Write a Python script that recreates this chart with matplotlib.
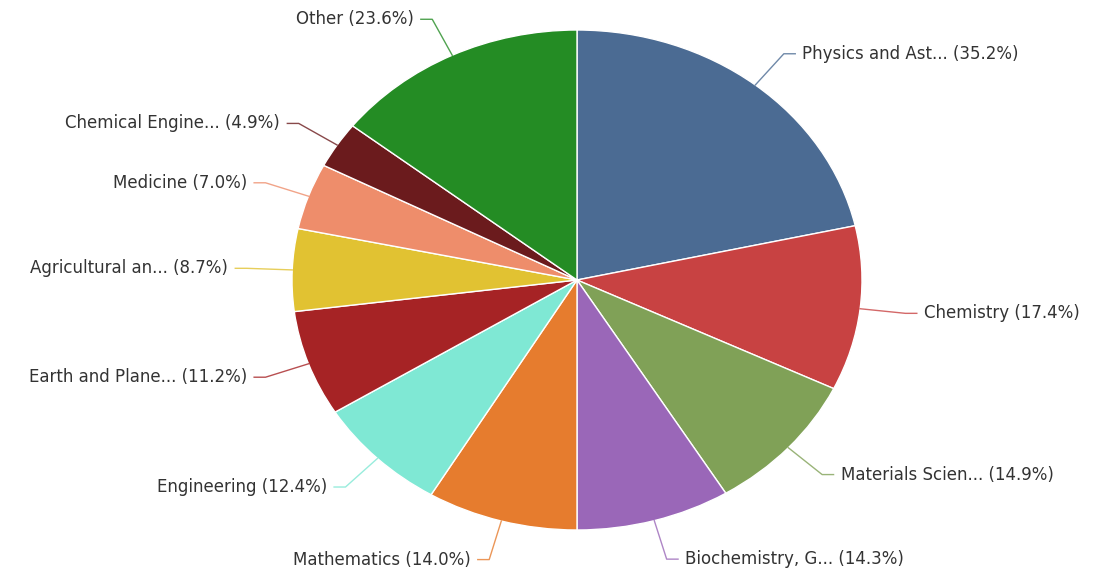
"""Subject-area share pie, labelled Highcharts style."""
import matplotlib

matplotlib.use("Agg")
import matplotlib.pyplot as plt
import numpy as np

subjects = [
    "Physics and Ast...",
    "Chemistry",
    "Materials Scien...",
    "Biochemistry, G...",
    "Mathematics",
    "Engineering",
    "Earth and Plane...",
    "Agricultural an...",
    "Medicine",
    "Chemical Engine...",
    "Other",
]
shares = [35.2, 17.4, 14.9, 14.3, 14.0, 12.4, 11.2, 8.7, 7.0, 4.9, 23.6]
colors = [
    "#4b6b93", "#c84242", "#80a157", "#9a67b8", "#e67c2e", "#7fe8d4",
    "#a62325", "#e1c232", "#ee8d6b", "#6b1b1d", "#248c24",
]

W, H = 1100, 576
fig = plt.figure(figsize=(W / 100, H / 100), dpi=100)
ax = fig.add_axes([0, 0, 1, 1])

wedges, _ = ax.pie(
    shares,
    colors=colors,
    startangle=90,
    counterclock=False,
    radius=1.0,
    wedgeprops={"edgecolor": "white", "linewidth": 1.0},
)

# stretch the pie into the ellipse seen in the reference
cx, cy, rx, ry = 577, 280, 285, 250
ax.set_aspect("auto")
ax.set_xlim(-cx / rx, (W - cx) / rx)
ax.set_ylim(-(H - cy) / ry, cy / ry)
ax.axis("off")

for w, name, val, col in zip(wedges, subjects, shares, colors):
    theta = np.deg2rad((w.theta1 + w.theta2) / 2)
    c, s = np.cos(theta), np.sin(theta)
    side = 1 if c >= 0 else -1
    x1, y1 = 1.16 * c, 1.16 * s
    x2 = x1 + side * 0.04
    ax.plot([c, x1, x2], [s, y1, y1], color=col, lw=1.0, alpha=0.8)
    ax.text(
        x2 + side * 0.025,
        y1,
        f"{name} ({val:.1f}%)",
        ha="left" if side > 0 else "right",
        va="center",
        fontsize=12,
        color="#333333",
        family="DejaVu Sans",
    )

fig.savefig("out.png", dpi=100, facecolor="white")
